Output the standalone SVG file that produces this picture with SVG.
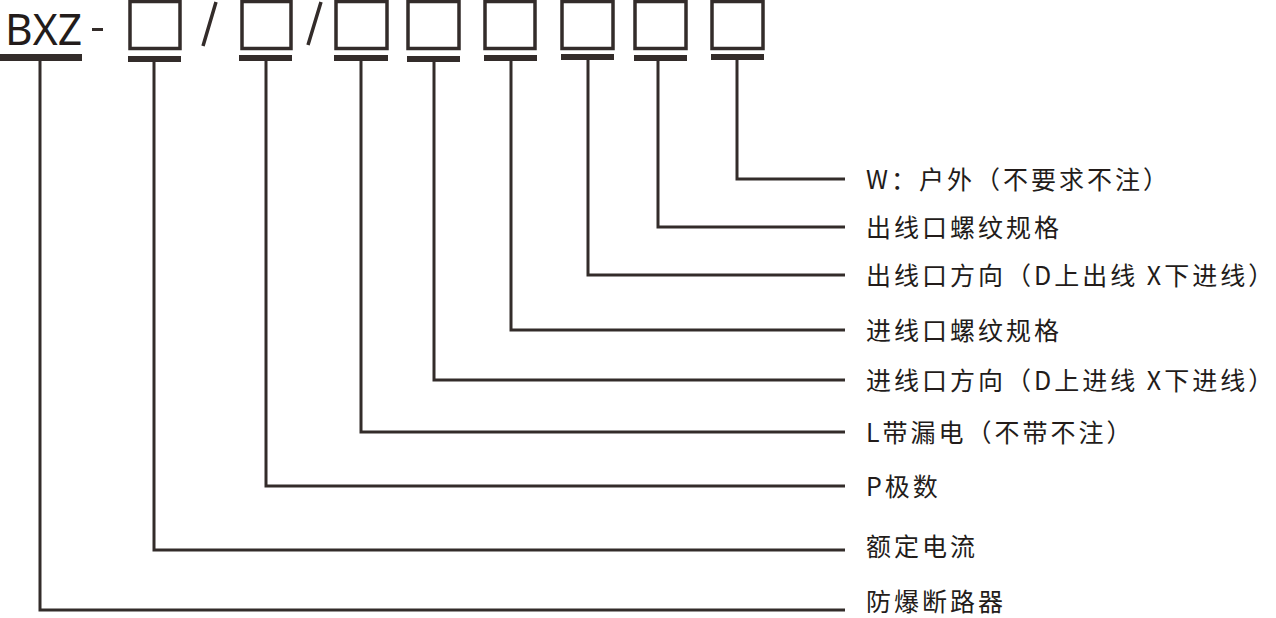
<svg xmlns="http://www.w3.org/2000/svg" width="1276" height="618" viewBox="0 0 1276 618">
<style>
.box{fill:none;stroke:#332c2a;stroke-width:3.5}
.bar{fill:#332c2a}
.ln{fill:none;stroke:#332c2a;stroke-width:3}
.t{font-family:"Noto Sans CJK SC","Noto Sans",sans-serif;font-size:25px;fill:#231c1a;letter-spacing:3px}
</style>
<rect width="1276" height="618" fill="#fff"/>
<g id="code">
<text x="5" y="45" font-family="'Liberation Sans Narrow','Noto Sans',sans-serif" font-size="44" fill="#231c1a" textLength="77" lengthAdjust="spacingAndGlyphs">BXZ</text>
<rect x="92" y="28" width="11" height="3" class="bar"/>
<path d="M216 2 L203 46 M321 2 L308 45" stroke="#332c2a" stroke-width="3.5"/>
<rect x="0" y="54" width="82" height="7" class="bar"/>
<rect x="130" y="1.5" width="50" height="47" class="box"/><rect x="128" y="56" width="53" height="6" class="bar"/>
<rect x="242" y="1.5" width="49" height="47" class="box"/><rect x="239" y="55" width="53" height="6" class="bar"/>
<rect x="336" y="1.5" width="51" height="47" class="box"/><rect x="334" y="55" width="54" height="6" class="bar"/>
<rect x="408" y="1.5" width="51" height="47" class="box"/><rect x="407" y="56" width="53" height="6" class="bar"/>
<rect x="485" y="1.5" width="50" height="47" class="box"/><rect x="484" y="55" width="53" height="6" class="bar"/>
<rect x="562" y="1.5" width="51" height="47" class="box"/><rect x="561" y="54" width="53" height="6" class="bar"/>
<rect x="635" y="1.5" width="51" height="47" class="box"/><rect x="634" y="55" width="53" height="6" class="bar"/>
<rect x="712" y="1.5" width="51" height="47" class="box"/><rect x="711" y="54" width="53" height="6" class="bar"/>
</g>
<g id="connectors">
<path class="ln" d="M737 60 V179 H845"/>
<path class="ln" d="M658 60 V227 H845"/>
<path class="ln" d="M588 60 V275 H845"/>
<path class="ln" d="M511 60 V330 H845"/>
<path class="ln" d="M434 60 V380 H845"/>
<path class="ln" d="M361 60 V432 H845"/>
<path class="ln" d="M266 60 V486 H845"/>
<path class="ln" d="M154 60 V550 H845"/>
<path class="ln" d="M40 60 V610 H845"/>
</g>
<g id="labels">
<text class="t" x="866" y="189">W：户外（不要求不注）</text>
<text class="t" x="866" y="237">出线口螺纹规格</text>
<text class="t" x="866" y="285">出线口方向（D上出线 X下进线）</text>
<text class="t" x="866" y="340">进线口螺纹规格</text>
<text class="t" x="866" y="390">进线口方向（D上进线 X下进线）</text>
<text class="t" x="866" y="442">L带漏电（不带不注）</text>
<text class="t" x="866" y="496">P极数</text>
<text class="t" x="866" y="556">额定电流</text>
<text class="t" x="866" y="611">防爆断路器</text>
</g>
</svg>
